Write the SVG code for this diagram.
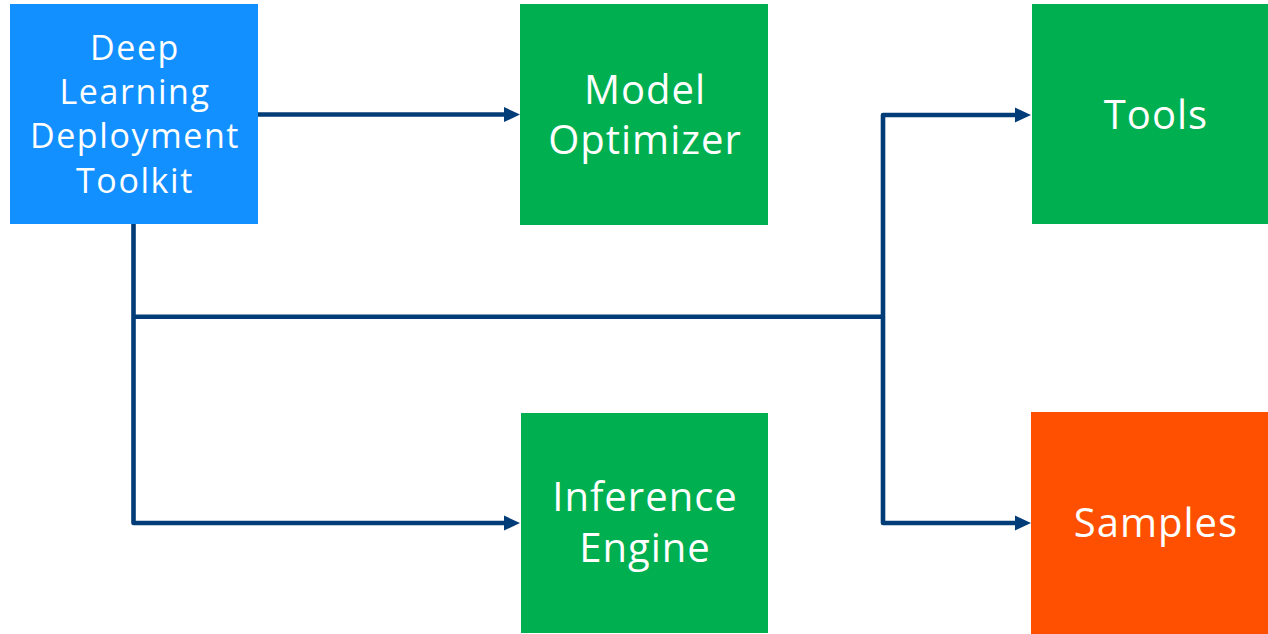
<svg xmlns="http://www.w3.org/2000/svg" width="1268" height="634" viewBox="0 0 1268 634">
<style>
.lbl{font-family:"Open Sans","Noto Sans",sans-serif;fill:#fff;text-anchor:middle}
.s1{font-size:34px;letter-spacing:1.6px}
.s2{font-size:40px;letter-spacing:1px}
.con{fill:none;stroke:#003c78;stroke-width:4.6;stroke-linejoin:round}
.ah{fill:#003c78}
</style>
<rect width="1268" height="634" fill="#fff"/>
<g id="dldt">
<rect x="10" y="4" width="248" height="220" fill="#1290ff"/>
<text class="lbl s1" x="135" y="60">Deep</text>
<text class="lbl s1" x="135" y="104">Learning</text>
<text class="lbl s1" x="135" y="148">Deployment</text>
<text class="lbl s1" x="135" y="193">Toolkit</text>
</g>
<g id="model-optimizer">
<rect x="520" y="4" width="248" height="221" fill="#00b050"/>
<text class="lbl s2" x="645" y="104">Model</text>
<text class="lbl s2" x="645" y="154">Optimizer</text>
</g>
<g id="tools">
<rect x="1032" y="4" width="236" height="220" fill="#00b050"/>
<text class="lbl s2" x="1156" y="129">Tools</text>
</g>
<g id="inference-engine">
<rect x="521" y="413" width="247" height="220" fill="#00b050"/>
<text class="lbl s2" x="645" y="511">Inference</text>
<text class="lbl s2" x="645" y="562">Engine</text>
</g>
<g id="samples">
<rect x="1031" y="412" width="237" height="222" fill="#fe5000"/>
<text class="lbl s2" x="1156" y="537">Samples</text>
</g>
<g id="connectors">
<path class="con" d="M258,114.5 H506"/>
<polygon class="ah" points="504,107 520,114.5 504,122"/>
<path class="con" d="M133.5,224 V523 H506"/>
<polygon class="ah" points="504,515.5 520,523 504,530.5"/>
<path class="con" d="M133.5,316.7 H883"/>
<path class="con" d="M883,317 V115 H1017"/>
<polygon class="ah" points="1015,107.5 1031,115 1015,122.5"/>
<path class="con" d="M883,317 V523 H1017"/>
<polygon class="ah" points="1015,515.5 1031,523 1015,530.5"/>
</g>
</svg>
